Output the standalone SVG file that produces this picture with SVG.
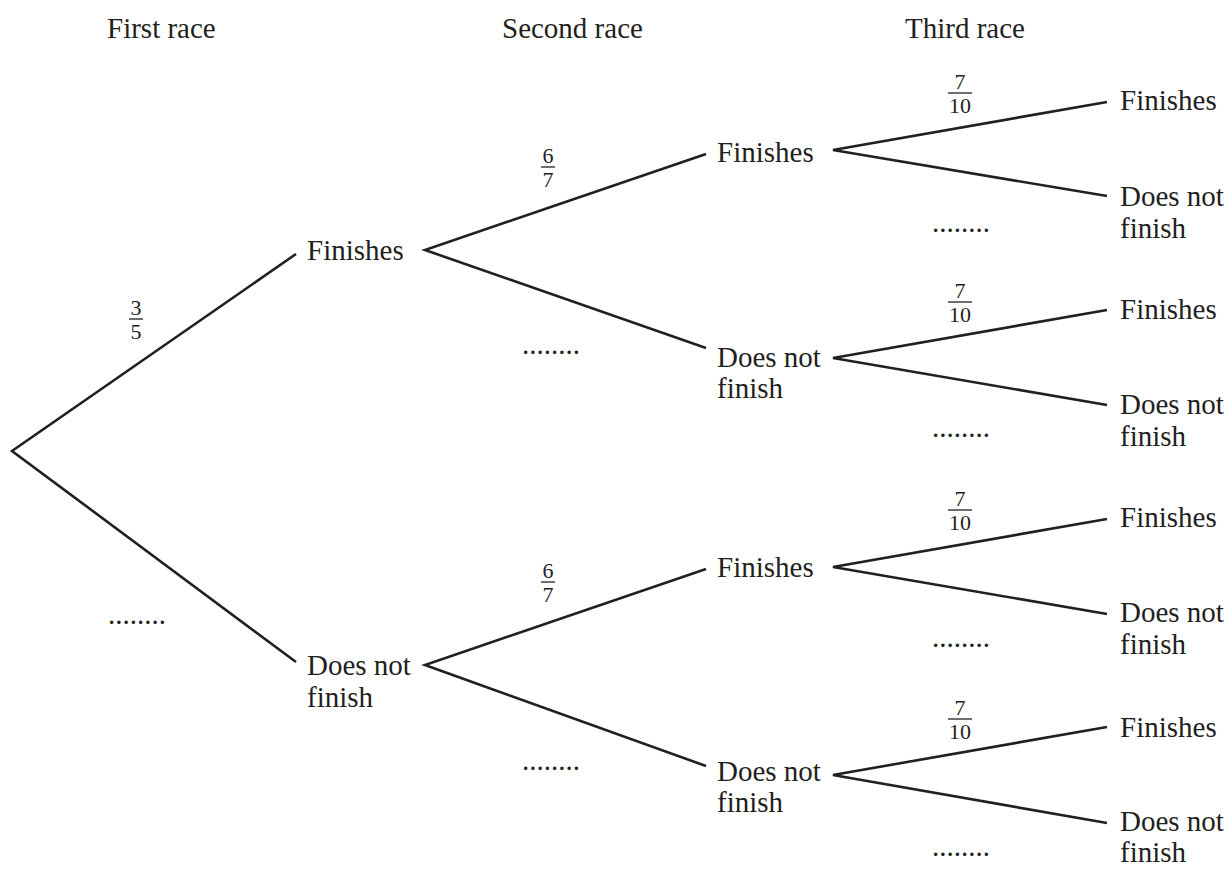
<svg xmlns="http://www.w3.org/2000/svg" width="1232" height="869" viewBox="0 0 1232 869">
<style>
text{font-family:"Liberation Serif","Times New Roman",serif;fill:#231f20}
.t{font-size:29px}
.f{font-size:22px;text-anchor:middle}
.e{stroke:#231f20;stroke-width:2.6;fill:none;stroke-linecap:butt;stroke-linejoin:miter}
.bar{stroke:#231f20;stroke-width:1.3}
</style>
<rect width="1232" height="869" fill="#fff"/>
<g id="headers">
<text class="t" x="107" y="38">First race</text>
<text class="t" x="502" y="38">Second race</text>
<text class="t" x="905" y="38">Third race</text>
</g>
<g id="connectors">
<path class="e" d="M296,254 L12,451 L296,662"/>
<path class="e" d="M706,154 L425,250 L706,348"/>
<path class="e" d="M706,569 L425,665 L706,766"/>
<path class="e" d="M1107,102 L833,150 L1107,196"/>
<path class="e" d="M1107,310 L833,358 L1107,405"/>
<path class="e" d="M1107,519 L833,567 L1107,614"/>
<path class="e" d="M1107,727 L833,775 L1107,823"/>
</g>
<g id="n-f1"><text class="t" x="307" y="260">Finishes</text></g>
<g id="n-d1"><text class="t" x="307" y="675">Does not</text><text class="t" x="307" y="707">finish</text></g>
<g id="n-f1f"><text class="t" x="717" y="162">Finishes</text></g>
<g id="n-f1d"><text class="t" x="717" y="367">Does not</text><text class="t" x="717" y="398">finish</text></g>
<g id="n-d1f"><text class="t" x="717" y="577">Finishes</text></g>
<g id="n-d1d"><text class="t" x="717" y="781">Does not</text><text class="t" x="717" y="812">finish</text></g>
<g id="n-l1"><text class="t" x="1120" y="110">Finishes</text></g>
<g id="n-l2"><text class="t" x="1120" y="206">Does not</text><text class="t" x="1120" y="238">finish</text></g>
<g id="n-l3"><text class="t" x="1120" y="319">Finishes</text></g>
<g id="n-l4"><text class="t" x="1120" y="414">Does not</text><text class="t" x="1120" y="446">finish</text></g>
<g id="n-l5"><text class="t" x="1120" y="527">Finishes</text></g>
<g id="n-l6"><text class="t" x="1120" y="622">Does not</text><text class="t" x="1120" y="654">finish</text></g>
<g id="n-l7"><text class="t" x="1120" y="737">Finishes</text></g>
<g id="n-l8"><text class="t" x="1120" y="831">Does not</text><text class="t" x="1120" y="862">finish</text></g>
<g id="probabilities">
<text class="f" x="136" y="315">3</text><line class="bar" x1="129" y1="319" x2="143" y2="319"/><text class="f" x="136" y="339">5</text>
<text class="f" x="548" y="163">6</text><line class="bar" x1="541" y1="167" x2="555" y2="167"/><text class="f" x="548" y="187">7</text>
<text class="f" x="548" y="578">6</text><line class="bar" x1="541" y1="582" x2="555" y2="582"/><text class="f" x="548" y="602">7</text>
<text class="f" x="960" y="89">7</text><line class="bar" x1="948" y1="93" x2="972" y2="93"/><text class="f" x="960" y="113">10</text>
<text class="f" x="960" y="298">7</text><line class="bar" x1="948" y1="302" x2="972" y2="302"/><text class="f" x="960" y="322">10</text>
<text class="f" x="960" y="506">7</text><line class="bar" x1="948" y1="510" x2="972" y2="510"/><text class="f" x="960" y="530">10</text>
<text class="f" x="960" y="715">7</text><line class="bar" x1="948" y1="719" x2="972" y2="719"/><text class="f" x="960" y="739">10</text>
<text class="t" x="108" y="624">........</text>
<text class="t" x="522" y="354">........</text>
<text class="t" x="522" y="770">........</text>
<text class="t" x="932" y="232">........</text>
<text class="t" x="932" y="437">........</text>
<text class="t" x="932" y="647">........</text>
<text class="t" x="932" y="856">........</text>
</g>
</svg>
